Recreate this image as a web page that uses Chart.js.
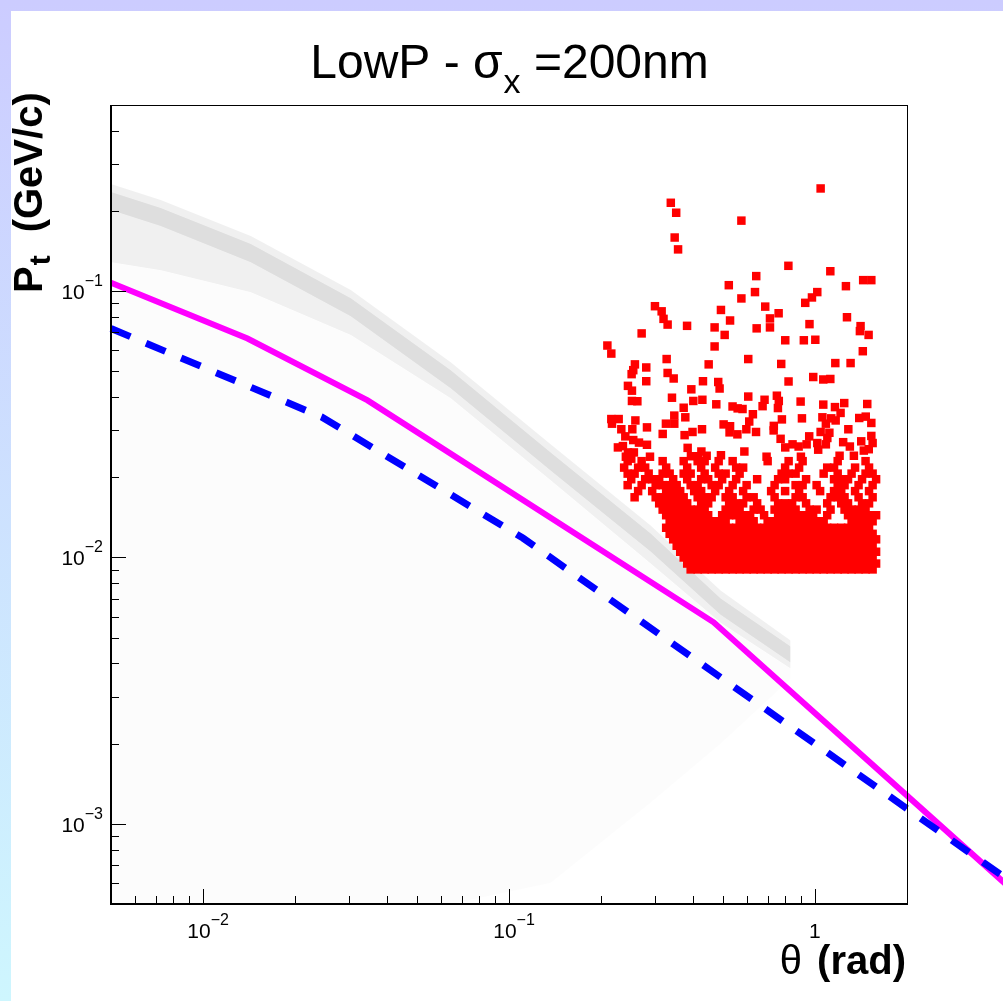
<!DOCTYPE html>
<html lang="en">
<head>
<meta charset="UTF-8" />
<title>LowP - sigma_x = 200nm</title>
<script src="https://cdn.jsdelivr.net/npm/chart.js"></script>
<style>
  html, body { margin: 0; padding: 0; }
  body {
    width: 1003px; height: 1001px; overflow: hidden; position: relative;
    background: linear-gradient(to bottom, #ccccff, #cef6fe);
  }
  .panel { position: absolute; left: 11px; top: 11px; right: 0; bottom: 0; background: #fff; }
  #plot { position: absolute; left: 0; top: 0; }
</style>
</head>
<body>
<div class="panel"></div>
<canvas id="plot" width="1003" height="1001"></canvas>
<script>
// ---- texts ----
const titleMain = "LowP - \u03c3";
const titleSub = "x";
const titleTail = " =200nm";
const xTitle = ["\u03b8", "(rad)"];
const yTitle = ["P", "t", "(GeV/c)"];

// ---- axes ----
const xRange = [0.005, 2];
const yRange = [0.0005, 0.5];
const xTicks = [0.01, 0.1, 1];
const xTickLabels = [["10", "\u22122"], ["10", "\u22121"], ["1", ""]];
const yTicks = [0.001, 0.01, 0.1];
const yTickLabels = [["10", "\u22123"], ["10", "\u22122"], ["10", "\u22121"]];

// ---- curves (theta, Pt) ----
const magentaTheta = [0.005, 0.01397, 0.0345, 0.4667, 5];
const magentaPt = [0.1076, 0.0664, 0.0389, 0.00571, 0.000497];
const blueTheta = [0.005, 0.0244, 0.111, 5];
const bluePt = [0.0724, 0.0337, 0.01183, 0.000543];

// ---- grey scatter band (edges) ----
const bandTheta = [0.005, 0.00727, 0.01432, 0.0304, 0.0645, 0.1368, 0.2904, 0.4918, 0.8328];
const bandTop = [0.2525, 0.2198, 0.1610, 0.1009, 0.0541, 0.0266, 0.01319, 0.00751, 0.00488];
const bandBottom = [0.1285, 0.1199, 0.0991, 0.0684, 0.0396, 0.0195, 0.00949, 0.00569, 0.00383];
const ridgeTop = [0.2356, 0.2051, 0.1502, 0.0941, 0.0505, 0.0248, 0.0123, 0.00701, 0.00463];
const ridgeBottom = [0.2016, 0.1756, 0.1285, 0.0805, 0.0432, 0.0212, 0.01053, 0.0061, 0.00403];
const haloBottom = [0.0005, 0.0005, 0.0005, 0.0005, 0.0005, 0.0006, 0.0012, 0.002, 0.0035];

// ---- red points: isolated ones [theta, Pt] ----
const redSparse = [
  [1.044,0.243],[0.338,0.2147],[0.352,0.197],[0.575,0.184],[0.348,0.159],[0.357,0.1435],[0.819,0.1245],
  [1.123,0.1188],[0.643,0.1139],[1.438,0.110],[1.529,0.110],[0.523,0.1053],[1.263,0.1044],[0.637,0.0992],
  [1.018,0.0992],[0.978,0.0947],[0.575,0.0939],[0.930,0.0904],[0.300,0.0878],[0.688,0.0875],[0.3155,0.0840],
  [0.493,0.0850],[0.761,0.0826],[0.713,0.0790],[0.320,0.0787],[0.528,0.0776],[1.273,0.0798],[0.330,0.0749],
  [0.382,0.0741],[0.960,0.0752],[0.470,0.0731],[0.645,0.0725],[0.713,0.0731],[1.41,0.0739],[1.403,0.0708],
  [1.498,0.0685],[0.2714,0.0694],[0.507,0.0685],[0.2097,0.0625],[0.216,0.0583],[0.470,0.0620],[0.800,0.0654],
  [0.920,0.0654],[1.003,0.0657],[1.434,0.0595],[0.3276,0.0556],[0.6055,0.0556],[0.4495,0.0531],[0.776,0.0533],
  [1.166,0.0537],[1.308,0.0537],[0.258,0.0531],[0.281,0.0517],[0.2548,0.0505],[0.2517,0.0488],[0.330,0.0493],
  [0.3454,0.0470],[0.9875,0.0476],[1.065,0.0466],[1.123,0.0468],[0.820,0.0458],[0.281,0.0459],[0.4306,0.0459],
  [0.483,0.0456],[0.2448,0.0441],[0.488,0.0431],[0.3945,0.0428],[0.2523,0.0423],[0.6055,0.0402],[0.751,0.0405],
  [0.341,0.0398],[0.4287,0.0391],[0.4004,0.0387],[0.6845,0.0391],[0.762,0.0387],[0.2523,0.0387],[0.2628,0.0386],
  [0.898,0.0385],[0.476,0.0376],[1.247,0.0380],[1.483,0.0377],[1.065,0.0375],[0.6745,0.0370],[0.538,0.0369],
  [0.559,0.0363],[0.580,0.0361],[0.757,0.0364],[1.163,0.0367],[0.3724,0.0365],[1.213,0.0349],[0.627,0.0345],
  [0.347,0.0341],[0.377,0.0336],[0.216,0.0331],[0.2283,0.0331],[0.2589,0.0327],[0.780,0.0330],[0.907,0.0333],
  [1.058,0.0336],[1.131,0.0333],[1.396,0.0334],[1.466,0.0338],[0.610,0.0324],[0.2171,0.0318],[0.347,0.0318],
  [0.3258,0.0318],[0.503,0.0316],[1.169,0.0327],[1.529,0.0320],[0.528,0.0311],[0.734,0.0312],[1.086,0.0318],
  [0.2329,0.0303],[0.253,0.0303],[0.2825,0.0308],[0.4275,0.0303],[0.5968,0.0303],[0.733,0.0300],[1.286,0.0303],
  [0.398,0.0296],[0.526,0.0295],[0.558,0.0290],[0.642,0.0296],[1.044,0.0296],[1.115,0.0294],[0.240,0.0285],
  [0.318,0.0291],[0.375,0.0288],[0.958,0.0285],[1.529,0.0286],[0.7724,0.0279],[1.098,0.0281],[0.2548,0.0276],
  [0.266,0.0270],[0.2825,0.0265],[0.9395,0.0266],[1.018,0.0269],[1.086,0.0266],[1.237,0.0271],[1.417,0.0273],
  [1.544,0.0269],[0.227,0.0259],[0.2357,0.0262],[0.800,0.0259],[0.845,0.0266],[0.8846,0.0261],[1.301,0.0261],
  [1.50,0.0255],[0.3837,0.0258],[0.588,0.0250],[1.025,0.0254],[0.2448,0.0248],[0.256,0.0248],[0.4255,0.0250],
  [1.445,0.0252],[0.3934,0.0240],[0.4146,0.0240],[0.4427,0.0241],[0.493,0.0242],[0.289,0.0239],[0.695,0.0239],
  [0.90,0.0239],[1.204,0.0241],[1.341,0.0241],[0.241,0.0239],[0.251,0.0235]
];

// ---- red points: the crowded lower block, one Pt per row with its thetas ----
const redDenseRows = [
  [0.0230, [0.2443,0.2714,0.3179,0.3724,0.4137,0.4361,0.4846,0.5384,0.7006,0.8205,0.9117,1.187,1.464]],
  [0.02175, [0.2379,0.2643,0.2787,0.3264,0.3824,0.4248,0.4720,0.5528,0.5826,0.7991,0.8878,1.097,1.155,1.353,1.503]],
  [0.02065, [0.2443,0.2574,0.2861,0.3179,0.3351,0.3724,0.3925,0.4361,0.4846,0.5107,0.5674,0.7783,0.8205,0.8647,1.068,1.187,1.318,1.464,1.544]],
  [0.01967, [0.2509,0.2787,0.2938,0.3097,0.3441,0.3824,0.4248,0.4478,0.4975,0.5528,0.6474,0.7581,0.7991,0.9357,1.155,1.219,1.283,1.426,1.585]],
  [0.01869, [0.2443,0.2714,0.3016,0.3179,0.3351,0.3533,0.3925,0.4137,0.4597,0.4846,0.5384,0.5981,0.7383,0.8647,0.9117,1.013,1.187,1.250,1.389,1.544]],
  [0.01775, [0.2643,0.2938,0.3264,0.3441,0.3628,0.4030,0.4248,0.4720,0.5243,0.5826,0.7193,0.7991,0.8878,1.040,1.155,1.219,1.353,1.503]],
  [0.01683, [0.2574,0.3016,0.3179,0.3351,0.3533,0.3724,0.4137,0.4361,0.4597,0.5107,0.5384,0.5981,0.6306,0.7383,0.8647,0.9117,1.125,1.187,1.250,1.389,1.544]],
  [0.01597, [0.3097,0.3264,0.3441,0.3628,0.3824,0.4248,0.4478,0.5243,0.5528,0.5826,0.6474,0.7581,0.7991,0.8424,0.9357,1.097,1.219,1.283,1.426,1.503]],
  [0.01513, [0.3179,0.3351,0.3533,0.3724,0.3925,0.4137,0.4361,0.5107,0.5384,0.5674,0.6306,0.6645,0.7383,0.7783,0.8205,0.8647,0.961,1.013,1.125,1.250,1.318,1.389,1.464]],
  [0.01441, [0.3264,0.3441,0.3628,0.3824,0.4030,0.4248,0.4478,0.4975,0.5243,0.5528,0.5826,0.6141,0.6822,0.7581,0.7991,0.8424,0.8878,0.9357,0.9867,1.097,1.283,1.353,1.426,1.503,1.585]],
  [0.01368, [0.3351,0.3533,0.3724,0.3925,0.4137,0.4361,0.4597,0.4846,0.5107,0.5674,0.5981,0.6306,0.7006,0.7383,0.7783,0.8205,0.8647,0.9117,0.961,1.013,1.068,1.318,1.389,1.464,1.544]],
  [0.01293, [0.3264,0.3441,0.3628,0.3824,0.4030,0.4248,0.4478,0.4720,0.4975,0.5243,0.5528,0.5826,0.6141,0.6474,0.6822,0.7193,0.7581,0.7991,0.8424,0.8878,0.9357,0.9867,1.040,1.097,1.155,1.219,1.283,1.353,1.426,1.503]],
  [0.01227, [0.3351,0.3533,0.3724,0.3925,0.4137,0.4361,0.4597,0.4846,0.5107,0.5384,0.5674,0.5981,0.6306,0.6645,0.7006,0.7383,0.7783,0.8205,0.8647,0.9117,0.961,1.013,1.068,1.125,1.187,1.250,1.318,1.389,1.464,1.544]],
  [0.0117, [0.3441,0.3628,0.3824,0.4030,0.4248,0.4478,0.4720,0.4975,0.5243,0.5528,0.5826,0.6141,0.6474,0.6822,0.7193,0.7581,0.7991,0.8424,0.8878,0.9357,0.9867,1.040,1.097,1.155,1.219,1.283,1.353,1.426,1.503,1.585]],
  [0.01107, [0.3533,0.3724,0.3925,0.4137,0.4361,0.4597,0.4846,0.5107,0.5384,0.5674,0.5981,0.6306,0.6645,0.7006,0.7383,0.7783,0.8205,0.8647,0.9117,0.961,1.013,1.068,1.125,1.187,1.250,1.318,1.389,1.464,1.544]],
  [0.01051, [0.3628,0.3824,0.4030,0.4248,0.4478,0.4720,0.4975,0.5243,0.5528,0.5826,0.6141,0.6474,0.6822,0.7193,0.7581,0.7991,0.8424,0.8878,0.9357,0.9867,1.040,1.097,1.155,1.219,1.283,1.353,1.426,1.503,1.585]],
  [0.0100, [0.3724,0.3925,0.4137,0.4361,0.4597,0.4846,0.5107,0.5384,0.5674,0.5981,0.6306,0.6645,0.7006,0.7383,0.7783,0.8205,0.8647,0.9117,0.961,1.013,1.068,1.125,1.187,1.250,1.318,1.389,1.464,1.544]],
  [0.00949, [0.3824,0.4030,0.4248,0.4478,0.4720,0.4975,0.5243,0.5528,0.5826,0.6141,0.6474,0.6822,0.7193,0.7581,0.7991,0.8424,0.8878,0.9357,0.9867,1.040,1.097,1.155,1.219,1.283,1.353,1.426,1.503,1.585]],
  [0.00902, [0.3925,0.4137,0.4361,0.4597,0.4846,0.5107,0.5384,0.5674,0.5981,0.6306,0.6645,0.7006,0.7383,0.7783,0.8205,0.8647,0.9117,0.961,1.013,1.068,1.125,1.187,1.250,1.318,1.389,1.464,1.544]]
];

const pairs = (xs, ys) => xs.map((x, i) => ({ x: x, y: ys[i] }));
const redPoints = redSparse.map(p => ({ x: p[0], y: p[1] }));
redDenseRows.forEach(row => row[1].forEach(t => redPoints.push({ x: t, y: row[0] })));

const FONT = '"Liberation Sans", Arial, sans-serif';
const clear = "rgba(0,0,0,0)";

// ROOT-like frame, inward ticks, 10^n labels and titles
const rootFrame = {
  id: "rootFrame",
  afterDraw(chart) {
    const ctx = chart.ctx;
    const a = chart.chartArea;
    const sx = chart.scales.x, sy = chart.scales.y;
    ctx.save();
    ctx.strokeStyle = "#000";
    ctx.fillStyle = "#000";

    ctx.lineWidth = 1;
    ctx.strokeRect(a.left + 0.5, a.top + 0.5, a.right - a.left, a.bottom - a.top);
    ctx.lineWidth = 2;
    ctx.beginPath();
    ctx.moveTo(a.left, a.top);
    ctx.lineTo(a.left, a.bottom);
    ctx.lineTo(a.right, a.bottom);
    ctx.stroke();

    // ticks
    ctx.lineWidth = 1;
    ctx.beginPath();
    for (let e = -4; e <= 0; e++) {
      for (let m = 1; m <= 9; m++) {
        const v = m * Math.pow(10, e);
        const len = m === 1 ? 15 : 8;
        if (v > xRange[0] * 1.001 && v < xRange[1] * 0.999) {
          const px = Math.round(sx.getPixelForValue(v)) + 0.5;
          ctx.moveTo(px, a.bottom);
          ctx.lineTo(px, a.bottom - len);
        }
        if (v > yRange[0] * 1.001 && v < yRange[1] * 0.999) {
          const py = Math.round(sy.getPixelForValue(v)) + 0.5;
          ctx.moveTo(a.left, py);
          ctx.lineTo(a.left + len, py);
        }
      }
    }
    ctx.stroke();

    // tick labels
    const baseFont = "21px " + FONT, supFont = "16px " + FONT;
    const measure = (t, f) => { ctx.font = f; return ctx.measureText(t).width; };
    xTicks.forEach((v, i) => {
      const [b, s] = xTickLabels[i];
      const wb = measure(b, baseFont), ws = s ? measure(s, supFont) : 0;
      const px = sx.getPixelForValue(v);
      const x0 = s ? px + 5 - (wb + ws) / 2 : px - wb / 2;
      ctx.font = baseFont; ctx.fillText(b, x0, 938);
      if (s) { ctx.font = supFont; ctx.fillText(s, x0 + wb, 925); }
    });
    yTicks.forEach((v, i) => {
      const [b, s] = yTickLabels[i];
      const wb = measure(b, baseFont), ws = measure(s, supFont);
      const py = sy.getPixelForValue(v);
      const x0 = 103 - wb - ws;
      ctx.font = baseFont; ctx.fillText(b, x0, py + 8);
      ctx.font = supFont; ctx.fillText(s, x0 + wb, py - 5);
    });

    // title
    const tf = "48px " + FONT, tsf = "34px " + FONT;
    const w1 = measure(titleMain, tf), w2 = measure(titleSub, tsf), w3 = measure(titleTail, tf);
    let tx = (a.left + a.right) / 2 - (w1 + w2 + w3) / 2;
    ctx.font = tf; ctx.fillText(titleMain, tx, 78);
    ctx.font = tsf; ctx.fillText(titleSub, tx + w1 + 1, 93);
    ctx.font = tf; ctx.fillText(titleTail, tx + w1 + w2 + 1, 78);

    // x title
    const xb = "bold 40px " + FONT, xr = "40px " + FONT;
    const wRad = measure(xTitle[1], xb);
    ctx.font = xb; ctx.textAlign = "right"; ctx.fillText(xTitle[1], 906, 974);
    ctx.font = xr; ctx.fillText(xTitle[0], 906 - wRad - 15, 974);
    ctx.textAlign = "left";

    // y title, rotated
    ctx.translate(42, 293);
    ctx.rotate(-Math.PI / 2);
    const yb = "bold 40px " + FONT, ys = "bold 30px " + FONT;
    const wP = measure(yTitle[0], yb), wt = measure(yTitle[1], ys);
    ctx.font = yb; ctx.fillText(yTitle[0], 0, 0);
    ctx.font = ys; ctx.fillText(yTitle[1], wP + 1, 8);
    ctx.font = yb; ctx.fillText(yTitle[2], wP + wt + 24, 0);
    ctx.restore();
  }
};

new Chart(document.getElementById("plot"), {
  type: "line",
  data: {
    datasets: [
      { data: pairs(bandTheta, bandTop), borderColor: clear, borderWidth: 0, pointRadius: 0, fill: false, order: 10 },
      { data: pairs(bandTheta, bandBottom), borderColor: clear, borderWidth: 0, pointRadius: 0, fill: "-1",
        backgroundColor: "rgba(0,0,0,0.06)", order: 10 },
      { data: pairs(bandTheta, ridgeTop), borderColor: clear, borderWidth: 0, pointRadius: 0, fill: false, order: 9 },
      { data: pairs(bandTheta, ridgeBottom), borderColor: clear, borderWidth: 0, pointRadius: 0, fill: "-1",
        backgroundColor: "rgba(0,0,0,0.08)", order: 9 },
      { data: pairs(bandTheta, haloBottom), borderColor: clear, borderWidth: 0, pointRadius: 0, fill: 1,
        backgroundColor: "rgba(0,0,0,0.012)", order: 11 },
      { data: redPoints, showLine: false, pointStyle: "rect", pointRadius: 6, borderWidth: 0,
        backgroundColor: "#ff0000", borderColor: "#ff0000", order: 3 },
      { data: pairs(magentaTheta, magentaPt), borderColor: "#ff00ff", borderWidth: 6, pointRadius: 0,
        fill: false, clip: false, order: 2 },
      { data: pairs(blueTheta, bluePt), borderColor: "#0000ff", borderWidth: 7, borderDash: [21, 17],
        pointRadius: 0, fill: false, clip: false, order: 1 }
    ]
  },
  options: {
    responsive: false,
    animation: false,
    devicePixelRatio: 1,
    layout: { padding: { left: 111, top: 105, right: 96, bottom: 97 } },
    elements: { line: { tension: 0 } },
    plugins: { legend: { display: false }, tooltip: { enabled: false }, title: { display: false } },
    scales: {
      x: { type: "logarithmic", min: xRange[0], max: xRange[1], display: false },
      y: { type: "logarithmic", min: yRange[0], max: yRange[1], display: false }
    }
  },
  plugins: [rootFrame]
});
</script>
</body>
</html>
